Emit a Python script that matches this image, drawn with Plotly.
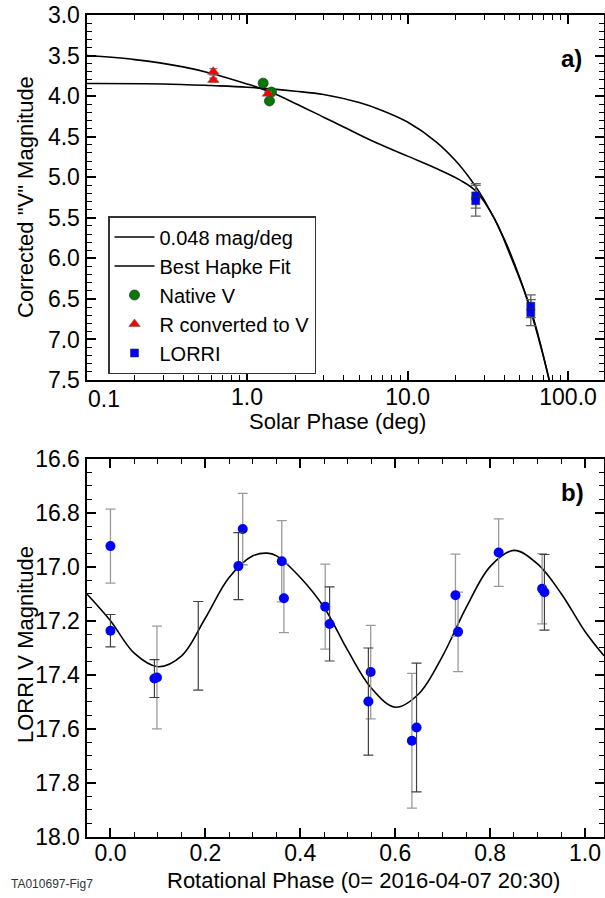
import plotly.graph_objects as go

# ---------------- Panel a data ----------------
lin_phase = [0.1, 0.3, 0.6, 1.0, 2.0, 3.0, 5.0, 7.0, 10.0, 15.0, 20.0, 25.0, 30.0, 40.0, 50.0, 60.0, 70.0, 76.3]
lin_mag = [3.845, 3.85, 3.87, 3.89, 3.94, 3.98, 4.08, 4.18, 4.32, 4.56, 4.80, 5.04, 5.28, 5.76, 6.24, 6.72, 7.20, 7.50]

hapke_phase = [0.1, 0.2, 0.4, 0.6, 1.0, 1.4, 2.0, 3.0, 4.0, 6.0, 10.0, 15.0, 21.0, 26.6, 35.0, 43.0, 58.6, 76.3]
hapke_mag = [3.50, 3.55, 3.64, 3.72, 3.85, 3.95, 4.09, 4.26, 4.38, 4.55, 4.74, 4.89, 5.03, 5.17, 5.52, 5.93, 6.63, 7.50]

nat_phase = [1.26, 1.42, 1.38]
nat_mag = [3.84, 3.95, 4.06]
nat_err = [0.03, 0.03, 0.03]

rconv_phase = [0.617, 0.617, 1.35]
rconv_mag = [3.70, 3.80, 3.97]
rconv_err = [0.04, 0.02, 0.02]

lorri_phase = [26.6, 26.6, 58.6, 58.6]
lorri_mag = [5.23, 5.29, 6.59, 6.67]
lorri_err = [0.15, 0.19, 0.14, 0.16]

x1_tickvals = [0.1, 1, 10, 100]
x1_ticktext = ["0.1", "1.0", "10.0", "100.0"]

# ---------------- Panel b data ----------------
# light-gray error bars
rot_phase_a = [0.0, 0.098, 0.2787, 0.361, 0.3655, 0.4525, 0.5484, 0.6352, 0.727, 0.7325, 0.818, 0.9096]
rot_mag_a = [16.924, 17.410, 16.861, 16.980, 17.117, 17.148, 17.390, 17.644, 17.106, 17.241, 16.948, 17.082]
rot_err_a = [0.137, 0.19, 0.132, 0.15, 0.127, 0.157, 0.173, 0.249, 0.152, 0.147, 0.125, 0.13]
# dark error bars
rot_phase_b = [0.0, 0.0926, 0.2696, 0.4618, 0.5435, 0.645, 0.9145]
rot_mag_b = [17.237, 17.414, 16.998, 17.212, 17.499, 17.595, 17.095]
rot_err_b = [0.06, 0.07, 0.124, 0.137, 0.198, 0.238, 0.14]
# error bar with no visible point
nopt_phase = [0.185]
nopt_mag = [17.293]
nopt_err = [0.164]

fit_phase = [-0.05, 0.0, 0.05, 0.10, 0.15, 0.20, 0.25, 0.30, 0.33, 0.35, 0.40, 0.45, 0.50, 0.55,
             0.60, 0.65, 0.70, 0.75, 0.80, 0.85, 0.90, 0.95, 1.00, 1.04]
fit_mag = [17.10, 17.20, 17.32, 17.37, 17.33, 17.19, 17.04, 16.96, 16.95, 16.96, 17.04, 17.15, 17.31, 17.45,
           17.52, 17.47, 17.33, 17.15, 17.00, 16.94, 16.99, 17.10, 17.24, 17.33]

FONT = "Liberation Sans Narrow, Arial Narrow, Liberation Sans, Arial, sans-serif"
W, H = 605, 898

fig = go.Figure()

# panel a
fig.add_trace(go.Scatter(x=lin_phase, y=lin_mag, mode="lines", name="0.048 mag/deg",
                         line=dict(color="black", width=1.6, shape="spline"), xaxis="x", yaxis="y"))
fig.add_trace(go.Scatter(x=hapke_phase, y=hapke_mag, mode="lines", name="Best Hapke Fit",
                         line=dict(color="black", width=1.6, shape="spline"), xaxis="x", yaxis="y"))
ebar = dict(type="data", visible=True, color="#808080", thickness=1.3, width=4)
fig.add_trace(go.Scatter(x=nat_phase, y=nat_mag, mode="markers", name="Native V",
                         error_y=dict(array=nat_err, **ebar),
                         marker=dict(symbol="circle", size=10, color="#007a00", line=dict(color="#333", width=0.8)),
                         xaxis="x", yaxis="y"))
fig.add_trace(go.Scatter(x=rconv_phase, y=rconv_mag, mode="markers", name="R converted to V",
                         error_y=dict(array=rconv_err, **ebar),
                         marker=dict(symbol="triangle-up", size=10, color="#ff0000", line=dict(color="#555", width=0.5)),
                         xaxis="x", yaxis="y"))
fig.add_trace(go.Scatter(x=lorri_phase, y=lorri_mag, mode="markers", name="LORRI",
                         error_y=dict(array=lorri_err, color="#606060", thickness=1.3, width=5),
                         marker=dict(symbol="square", size=8, color="#0000ff", line=dict(color="#333", width=0.6)),
                         xaxis="x", yaxis="y"))

# panel b
fig.add_trace(go.Scatter(x=fit_phase, y=fit_mag, mode="lines", showlegend=False,
                         line=dict(color="black", width=1.6, shape="spline"), xaxis="x2", yaxis="y2"))
fig.add_trace(go.Scatter(x=nopt_phase, y=nopt_mag, mode="markers", showlegend=False,
                         error_y=dict(array=nopt_err, color="#404040", thickness=1.2, width=5),
                         marker=dict(size=1, color="rgba(0,0,0,0)"), xaxis="x2", yaxis="y2"))
fig.add_trace(go.Scatter(x=rot_phase_a, y=rot_mag_a, mode="markers", showlegend=False,
                         error_y=dict(array=rot_err_a, color="#9a9a9a", thickness=1.3, width=5),
                         marker=dict(size=10, color="#0000ff"), xaxis="x2", yaxis="y2"))
fig.add_trace(go.Scatter(x=rot_phase_b, y=rot_mag_b, mode="markers", showlegend=False,
                         error_y=dict(array=rot_err_b, color="#404040", thickness=1.2, width=5),
                         marker=dict(size=10, color="#0000ff"), xaxis="x2", yaxis="y2"))

def px_x(p):
    return p / W

def px_y(p):
    return 1 - p / H

TICKSIZE = 23
TITLESIZE = 22

axis_common = dict(showline=True, linecolor="black", linewidth=2, mirror="ticks", ticks="inside",
                   tickcolor="black", tickwidth=1.8, ticklen=9, showgrid=False, zeroline=False,
                   automargin=False,
                   tickfont=dict(family=FONT, size=TICKSIZE, color="black"))
minor_common = dict(ticks="inside", ticklen=5, tickcolor="black", tickwidth=1.3)

# the first log-axis label sits left-aligned on the axis corner, as in the reference
first_label = dict(text=x1_ticktext[0], x=px_x(86), xref="paper", y=px_y(399), yref="paper",
                   showarrow=False, xanchor="left", yanchor="middle",
                   font=dict(family=FONT, size=TICKSIZE, color="black"))
shown_ticktext = [""] + x1_ticktext[1:]

fig.update_layout(
    width=W, height=H, margin=dict(l=0, r=0, t=0, b=0, autoexpand=False),
    paper_bgcolor="white", plot_bgcolor="white",
    font=dict(family=FONT, color="black"),
    xaxis=dict(domain=[px_x(86.5), px_x(604)], anchor="y", type="log", range=[-1, 2.224],
               tickvals=x1_tickvals, ticktext=shown_ticktext,
               ticklabelstandoff=-5,
               minor=dict(tickvals=[0.2, 0.3, 0.4, 0.5, 0.6, 0.7, 0.8, 0.9, 2, 3, 4, 5, 6, 7, 8, 9,
                                    20, 30, 40, 50, 60, 70, 80, 90], **minor_common),
               **axis_common),
    yaxis=dict(domain=[px_y(380), px_y(15)], anchor="x", range=[7.5, 3.0], dtick=0.5, tickformat=".1f",
               minor=dict(dtick=0.1, **minor_common), **axis_common),
    xaxis2=dict(domain=[px_x(86.5), px_x(604)], anchor="y2", range=[-0.0505, 1.04], dtick=0.2,
                tickformat=".1f", ticklabelstandoff=-6,
                minor=dict(dtick=0.05, **minor_common), **axis_common),
    yaxis2=dict(domain=[px_y(837), px_y(458.5)], anchor="x2", range=[18.0, 16.6], dtick=0.2,
                tickformat=".1f",
                minor=dict(dtick=0.05, **minor_common), **axis_common),
    legend=dict(x=px_x(108), y=px_y(216), xanchor="left", yanchor="top",
                bgcolor="white", bordercolor="#333", borderwidth=1.5,
                font=dict(family=FONT, size=20, color="black"), tracegroupgap=0, itemwidth=40),
    annotations=[
        first_label,
        dict(text="<b>a)</b>", x=px_x(584), y=px_y(43), xref="paper", yref="paper", showarrow=False,
             font=dict(family=FONT, size=24, color="black")),
        dict(text="<b>b)</b>", x=px_x(586), y=px_y(492), xref="paper", yref="paper", showarrow=False,
             font=dict(family=FONT, size=24, color="black")),
        dict(text="Solar Phase (deg)", x=px_x(337), y=px_y(421), xref="paper", yref="paper",
             showarrow=False, xanchor="center", yanchor="middle",
             font=dict(family=FONT, size=TITLESIZE, color="black")),
        dict(text="Rotational Phase (0= 2016-04-07 20:30)", x=px_x(363), y=px_y(880), xref="paper",
             yref="paper", showarrow=False, xanchor="center", yanchor="middle",
             font=dict(family=FONT, size=TITLESIZE, color="black")),
        dict(text='Corrected "V" Magnitude', x=px_x(25), y=px_y(197), xref="paper", yref="paper",
             showarrow=False, textangle=-90, xanchor="center", yanchor="middle",
             font=dict(family=FONT, size=TITLESIZE, color="black")),
        dict(text="LORRI V Magnitude", x=px_x(25), y=px_y(645), xref="paper", yref="paper",
             showarrow=False, textangle=-90, xanchor="center", yanchor="middle",
             font=dict(family=FONT, size=TITLESIZE, color="black")),
        dict(text="TA010697-Fig7", x=px_x(9), y=px_y(884), xref="paper", yref="paper", showarrow=False,
             xanchor="left", yanchor="middle", font=dict(family=FONT, size=12, color="#333")),
    ],
)

fig.write_html("out.html")
